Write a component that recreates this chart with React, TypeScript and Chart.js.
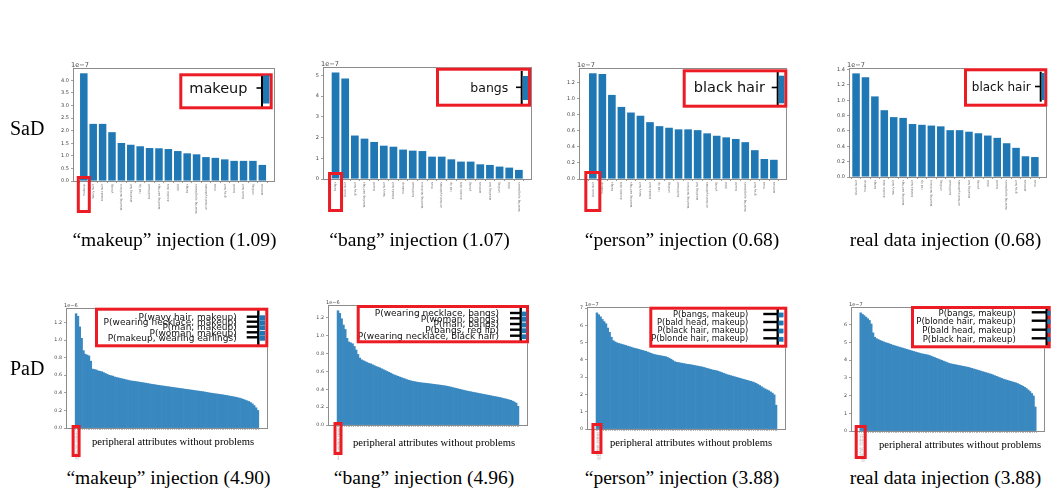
import { useEffect, useRef } from "react";
import { Chart, registerables } from "chart.js";

Chart.register(...registerables);

// ---------- SaD: single-attribute scores, values in units of 1e-7 ----------
const makeupAttrs = ["makeup", "wavy hair", "blonde hair", "young", "wearing necklace", "wearing hat", "red lip", "bald head", "wearing earrings", "double chin", "child", "bangs", "wearing eyeglasses", "arched eyebrows", "man", "gray hair", "beard", "black hair", "smiling", "woman"];
const makeupSad = [4.28, 2.27, 2.27, 1.94, 1.51, 1.44, 1.38, 1.31, 1.30, 1.27, 1.19, 1.10, 1.06, 0.95, 0.92, 0.86, 0.80, 0.80, 0.80, 0.64];

const bangAttrs = ["bangs", "black hair", "gray hair", "wearing earrings", "beard", "wavy hair", "blonde hair", "makeup", "bald head", "wearing necklace", "man", "arched eyebrows", "red lip", "double chin", "young", "woman", "wearing hat", "smiling", "child", "wearing eyeglasses"];
const bangSad = [5.15, 4.85, 2.10, 1.95, 1.79, 1.61, 1.56, 1.42, 1.37, 1.35, 1.08, 1.08, 0.95, 0.84, 0.84, 0.71, 0.68, 0.60, 0.55, 0.44];

const personAttrs = ["black hair", "makeup", "bangs", "double chin", "wearing earrings", "wavy hair", "blonde hair", "red lip", "smiling", "bald head", "wearing necklace", "wearing hat", "arched eyebrows", "young", "child", "beard", "wearing eyeglasses", "gray hair", "man", "woman"];
const personSad = [1.32, 1.31, 1.05, 0.90, 0.83, 0.79, 0.71, 0.66, 0.64, 0.62, 0.62, 0.61, 0.57, 0.54, 0.52, 0.50, 0.46, 0.36, 0.25, 0.24];

const realAttrs = ["black hair", "makeup", "bangs", "double chin", "wavy hair", "wearing earrings", "blonde hair", "red lip", "wearing necklace", "smiling", "bald head", "arched eyebrows", "wearing hat", "young", "child", "beard", "wearing eyeglasses", "gray hair", "woman", "man"];
const realSad = [1.35, 1.30, 1.05, 0.87, 0.78, 0.77, 0.69, 0.68, 0.67, 0.66, 0.61, 0.61, 0.59, 0.57, 0.54, 0.51, 0.44, 0.38, 0.27, 0.26];

// ---------- PaD: attribute-pair scores, sorted descending ----------
// units of 1e-6
const makeupPad = [
  1.30, 1.27, 1.15, 1.02, 0.88, 0.84, 0.83, 0.82, 0.76, 0.67,
  0.665, 0.66, 0.65, 0.645, 0.64, 0.63, 0.62, 0.61, 0.60, 0.595,
  0.59, 0.58, 0.575, 0.57, 0.565, 0.56, 0.555, 0.55, 0.545, 0.54,
  0.535, 0.533, 0.53, 0.527, 0.524, 0.52, 0.517, 0.513, 0.51, 0.506,
  0.502, 0.498, 0.495, 0.492, 0.488, 0.485, 0.482, 0.479, 0.476, 0.473,
  0.47, 0.467, 0.464, 0.461, 0.458, 0.455, 0.452, 0.449, 0.446, 0.443,
  0.44, 0.437, 0.434, 0.431, 0.428, 0.425, 0.422, 0.419, 0.416, 0.413,
  0.41, 0.406, 0.402, 0.398, 0.395, 0.392, 0.389, 0.386, 0.383, 0.38,
  0.377, 0.373, 0.37, 0.366, 0.362, 0.358, 0.354, 0.35, 0.345, 0.34,
  0.334, 0.326, 0.318, 0.31, 0.302, 0.29, 0.275, 0.255, 0.23, 0.20,
];
// units of 1e-6
const bangPad = [
  1.28, 1.25, 1.19, 1.12, 1.07, 0.97, 0.93, 0.92, 0.91, 0.88,
  0.84, 0.79, 0.75, 0.73, 0.72, 0.71, 0.70, 0.69, 0.685, 0.675,
  0.665, 0.655, 0.648, 0.64, 0.63, 0.62, 0.61, 0.60, 0.59, 0.58,
  0.57, 0.56, 0.553, 0.545, 0.537, 0.53, 0.522, 0.515, 0.508, 0.50,
  0.495, 0.49, 0.486, 0.482, 0.478, 0.475, 0.472, 0.47, 0.468, 0.466,
  0.463, 0.46, 0.458, 0.455, 0.452, 0.45, 0.447, 0.444, 0.441, 0.438,
  0.434, 0.43, 0.425, 0.42, 0.415, 0.41, 0.405, 0.40, 0.395, 0.39,
  0.385, 0.38, 0.376, 0.372, 0.368, 0.364, 0.36, 0.356, 0.352, 0.348,
  0.344, 0.34, 0.336, 0.332, 0.328, 0.324, 0.32, 0.316, 0.312, 0.308,
  0.303, 0.298, 0.293, 0.288, 0.282, 0.276, 0.268, 0.258, 0.245, 0.21,
];
// units of 1e-7
const personPad = [
  6.73, 6.62, 6.50, 6.35, 6.22, 6.10, 5.85, 5.60, 5.32, 5.12,
  5.05, 5.00, 4.96, 4.93, 4.90, 4.87, 4.84, 4.80, 4.77, 4.74,
  4.70, 4.67, 4.65, 4.62, 4.59, 4.56, 4.53, 4.50, 4.46, 4.42,
  4.38, 4.34, 4.31, 4.29, 4.27, 4.25, 4.23, 4.21, 4.19, 4.15,
  4.10, 4.04, 3.97, 3.90, 3.87, 3.85, 3.83, 3.81, 3.79, 3.77,
  3.75, 3.74, 3.72, 3.70, 3.68, 3.66, 3.64, 3.62, 3.60, 3.57,
  3.54, 3.51, 3.48, 3.45, 3.42, 3.40, 3.38, 3.35, 3.31, 3.27,
  3.23, 3.19, 3.15, 3.12, 3.09, 3.06, 3.03, 3.00, 2.97, 2.94,
  2.91, 2.88, 2.85, 2.82, 2.79, 2.76, 2.73, 2.69, 2.64, 2.58,
  2.52, 2.45, 2.38, 2.32, 2.27, 2.22, 2.15, 2.08, 1.98, 1.38,
];
// units of 1e-7
const realPad = [
  6.68, 6.60, 6.52, 6.44, 6.35, 6.25, 6.05, 5.55, 5.30, 5.22,
  5.17, 5.12, 5.08, 5.04, 5.00, 4.97, 4.94, 4.90, 4.86, 4.83,
  4.80, 4.77, 4.74, 4.71, 4.68, 4.65, 4.62, 4.59, 4.56, 4.53,
  4.50, 4.47, 4.44, 4.41, 4.38, 4.36, 4.34, 4.32, 4.30, 4.27,
  4.23, 4.19, 4.15, 4.11, 4.07, 4.03, 3.99, 3.95, 3.91, 3.87,
  3.83, 3.80, 3.78, 3.76, 3.74, 3.72, 3.70, 3.68, 3.66, 3.64,
  3.62, 3.60, 3.57, 3.54, 3.51, 3.48, 3.45, 3.42, 3.39, 3.36,
  3.33, 3.30, 3.27, 3.24, 3.21, 3.17, 3.13, 3.09, 3.05, 3.01,
  2.97, 2.93, 2.90, 2.87, 2.84, 2.81, 2.78, 2.75, 2.72, 2.68,
  2.63, 2.58, 2.53, 2.47, 2.40, 2.32, 2.23, 2.12, 1.98, 1.36,
];

// top pairs shown in the zoomed insets
const makeupTopPairs = ["P(wavy hair, makeup)", "P(wearing necklace, makeup)", "P(man, makeup)", "P(woman, makeup)", "P(makeup, wearing earlings)"];
const bangTopPairs = ["P(wearing necklace, bangs)", "P(woman, bangs)", "P(man, bangs)", "P(bangs, red lip)", "P(wearing necklace, black hair)"];
const personTopPairs = ["P(bangs, makeup)", "P(bald head, makeup)", "P(black hair, makeup)", "P(blonde hair, makeup)"];
const realTopPairs = ["P(bangs, makeup)", "P(blonde hair, makeup)", "P(bald head, makeup)", "P(black hair, makeup)"];

// y-axis tick values
const makeupSadTicks = [0, 0.5, 1.0, 1.5, 2.0, 2.5, 3.0, 3.5, 4.0];
const bangSadTicks = [0, 1, 2, 3, 4, 5];
const personSadTicks = [0, 0.2, 0.4, 0.6, 0.8, 1.0, 1.2];
const realSadTicks = [0, 0.2, 0.4, 0.6, 0.8, 1.0, 1.2, 1.4];
const makeupPadTicks = [0, 0.2, 0.4, 0.6, 0.8, 1.0, 1.2];
const bangPadTicks = [0, 0.2, 0.4, 0.6, 0.8, 1.0, 1.2];
const personPadTicks = [0, 1, 2, 3, 4, 5, 6, 7];
const realPadTicks = [0, 1, 2, 3, 4, 5, 6];

const RED = "rgb(236, 28, 36)";
const SAD_BLUE = "#1f77b4";
const PAD_BLUE = "#3a88c0";

type Rect = [number, number, number, number];
type Inset = {
  box: Rect;
  font: number;
  rows: { text: string; y: number }[];
  textRight: number;
  tick: [number, number];
  tickWidth: number;
  line: [number, number, number];
  lineWidth: number;
  blue: Rect[];
};
type PanelSpec = {
  left: number; top: number; width: number; height: number;
  yAxisWidth: number; xAxisHeight: number; padTop: number; padRight: number;
  values: number[]; xLabels: string[];
  xMin: number; xMax: number; yMax: number; yTicks: number[]; yDecimals: number;
  exponent: string; expSize: number; yFont: number; xFont: number; xColor: string;
  barColor: string; barPercentage: number;
  inset: Inset;
  labelBox: { w: number; up: number; down: number };
};

function rowsBlue(x0: number, x1: number, ys: number[], half: number): Rect[] {
  return ys.map((y) => [x0, y - half, x1, y + half] as Rect);
}

const sadInset = (box: Rect, font: number, text: string, y: number, textRight: number, tick: [number, number], line: [number, number, number], blue: Rect): Inset => ({
  box, font, rows: [{ text, y }], textRight, tick, tickWidth: 1.6, line, lineWidth: 2, blue: [blue],
});

const padInset = (box: Rect, font: number, texts: string[], ys: number[], textRight: number, tick: [number, number], line: [number, number, number], blueX: [number, number]): Inset => ({
  box, font, rows: texts.map((t, i) => ({ text: t, y: ys[i] })), textRight, tick, tickWidth: 2.4, line, lineWidth: 2.4,
  blue: rowsBlue(blueX[0], blueX[1], ys, 2.4),
});

const panels: PanelSpec[] = [
  {
    left: 40, top: 50, width: 245, height: 180, yAxisWidth: 33, xAxisHeight: 49, padTop: 18, padRight: 10,
    values: makeupSad, xLabels: makeupAttrs, xMin: -1.15, xMax: 20.35, yMax: 4.49, yTicks: makeupSadTicks, yDecimals: 1,
    exponent: "1e\u22127", expSize: 6.6, yFont: 5, xFont: 3, xColor: "#666", barColor: SAD_BLUE, barPercentage: 0.8,
    inset: sadInset([179.3, 73.3, 272.7, 109.3], 14.5, "makeup", 89, 247.5, [256.5, 262], [262, 75, 107], [263, 75.5, 269.5, 103.5]),
    labelBox: { w: 14, up: 5, down: 32 },
  },
  {
    left: 290, top: 50, width: 252, height: 180, yAxisWidth: 33, xAxisHeight: 51, padTop: 17, padRight: 10,
    values: bangSad, xLabels: bangAttrs, xMin: -1.3, xMax: 20.36, yMax: 5.41, yTicks: bangSadTicks, yDecimals: 0,
    exponent: "1e\u22127", expSize: 6.6, yFont: 5, xFont: 3, xColor: "#666", barColor: SAD_BLUE, barPercentage: 0.8,
    inset: sadInset([436, 67.7, 531, 106.7], 12.5, "bangs", 88.3, 508.3, [516, 521.7], [521.7, 71, 104], [522.6, 76, 528, 100]),
    labelBox: { w: 15, up: 7, down: 33 },
  },
  {
    left: 546, top: 50, width: 251, height: 180, yAxisWidth: 33, xAxisHeight: 51, padTop: 18, padRight: 10,
    values: personSad, xLabels: personAttrs, xMin: -1.45, xMax: 20.38, yMax: 1.386, yTicks: personSadTicks, yDecimals: 1,
    exponent: "1e\u22127", expSize: 6.6, yFont: 5, xFont: 3, xColor: "#666", barColor: SAD_BLUE, barPercentage: 0.8,
    inset: sadInset([682.7, 69.3, 787.3, 107.7], 14.5, "black hair", 88.5, 765, [771.7, 777.7], [777.7, 70, 105], [778.6, 75.7, 784.3, 103.3]),
    labelBox: { w: 17, up: 8, down: 33 },
  },
  {
    left: 816, top: 50, width: 241, height: 180, yAxisWidth: 33, xAxisHeight: 53, padTop: 18, padRight: 10,
    values: realSad, xLabels: realAttrs, xMin: -0.75, xMax: 20.29, yMax: 1.42, yTicks: realSadTicks, yDecimals: 1,
    exponent: "1e\u22127", expSize: 6.6, yFont: 5, xFont: 3, xColor: "#666", barColor: SAD_BLUE, barPercentage: 0.8,
    inset: sadInset([964, 68.3, 1047.3, 106.7], 12, "black hair", 87.5, 1030.7, [1035, 1040.7], [1040.7, 71.7, 101.7], [1041.6, 73, 1044.6, 100]),
    labelBox: { w: 0, up: 0, down: 0 },
  },
  {
    left: 36, top: 290, width: 242, height: 170, yAxisWidth: 30, xAxisHeight: 32, padTop: 18, padRight: 10,
    values: makeupPad, xLabels: makeupTopPairs.slice(0, 3), xMin: -5.5, xMax: 104.5, yMax: 1.365, yTicks: makeupPadTicks, yDecimals: 1,
    exponent: "1e\u22126", expSize: 5, yFont: 4.8, xFont: 2.6, xColor: "#aaa", barColor: PAD_BLUE, barPercentage: 1,
    inset: padInset([95, 307.7, 268.3, 347.3], 9, makeupTopPairs, [317.7, 322.7, 327.7, 333.3, 338.3], 236.7, [246.7, 258.3], [258.3, 309, 345], [259.3, 265]),
    labelBox: { w: 9, up: 3, down: 29 },
  },
  {
    left: 298, top: 290, width: 240, height: 170, yAxisWidth: 30, xAxisHeight: 35, padTop: 15, padRight: 10,
    values: bangPad, xLabels: bangTopPairs.slice(0, 3), xMin: -5.5, xMax: 104.5, yMax: 1.344, yTicks: bangPadTicks, yDecimals: 1,
    exponent: "1e\u22126", expSize: 5, yFont: 4.8, xFont: 2.6, xColor: "#aaa", barColor: PAD_BLUE, barPercentage: 1,
    inset: padInset([356.7, 305, 529, 343.3], 9, bangTopPairs, [314, 319.3, 325, 330.7, 336.7], 499, [510, 520.7], [520.7, 307.7, 341], [521.7, 526.7]),
    labelBox: { w: 9, up: 3, down: 30 },
  },
  {
    left: 557, top: 290, width: 239, height: 170, yAxisWidth: 30, xAxisHeight: 31, padTop: 17, padRight: 10,
    values: personPad, xLabels: personTopPairs.slice(0, 3), xMin: -5.5, xMax: 104.5, yMax: 7.07, yTicks: personPadTicks, yDecimals: 0,
    exponent: "1e\u22127", expSize: 5, yFont: 4.8, xFont: 2.6, xColor: "#aaa", barColor: PAD_BLUE, barPercentage: 1,
    inset: padInset([649.3, 306.7, 787.3, 347.7], 8.3, personTopPairs, [315, 323, 331, 339.3], 748.3, [763.3, 777.7], [777.7, 309, 345], [778.5, 783.5]),
    labelBox: { w: 11, up: 6, down: 25 },
  },
  {
    left: 821, top: 290, width: 234, height: 172, yAxisWidth: 30, xAxisHeight: 31, padTop: 17, padRight: 10,
    values: realPad, xLabels: realTopPairs.slice(0, 3), xMin: -5.5, xMax: 104.5, yMax: 7.01, yTicks: realPadTicks, yDecimals: 0,
    exponent: "1e\u22127", expSize: 5, yFont: 4.8, xFont: 2.6, xColor: "#aaa", barColor: PAD_BLUE, barPercentage: 1,
    inset: padInset([911, 306, 1050.7, 348.3], 8.5, realTopPairs, [313.3, 321.7, 330.7, 339.3], 1015.7, [1031.7, 1046.7], [1046.7, 307.7, 345.7], [1047.4, 1050.5]),
    labelBox: { w: 12, up: 6, down: 28 },
  },
];

function decorPlugin(spec: PanelSpec) {
  return {
    id: "panelDecor",
    afterDraw(chart: any) {
      const { ctx, chartArea: a } = chart;
      const ox = spec.left;
      const oy = spec.top;
      ctx.save();

      // axes frame
      const l = Math.round(a.left), t = Math.round(a.top), r = Math.round(a.right), b = Math.round(a.bottom);
      ctx.strokeStyle = "#8c8c8c";
      ctx.lineWidth = 1;
      ctx.strokeRect(l + 0.5, t + 0.5, r - l - 1, b - t);

      // scale exponent
      ctx.fillStyle = "#444";
      ctx.font = `${spec.expSize}px "DejaVu Sans"`;
      ctx.textAlign = "left";
      ctx.textBaseline = "alphabetic";
      ctx.fillText(spec.exponent, a.left - 2, a.top - 1.5);

      // zoomed inset of the top entries
      const ins = spec.inset;
      const [bx0, by0, bx1, by1] = ins.box;
      ctx.fillStyle = "#fff";
      ctx.fillRect(bx0 - ox, by0 - oy, bx1 - bx0, by1 - by0);
      ctx.fillStyle = "#111";
      ctx.font = `${ins.font}px "DejaVu Sans"`;
      ctx.textAlign = "right";
      ctx.textBaseline = "middle";
      ins.rows.forEach((row) => ctx.fillText(row.text, ins.textRight - ox, row.y - oy));
      ctx.strokeStyle = "#000";
      ctx.lineWidth = ins.tickWidth;
      ins.rows.forEach((row) => {
        ctx.beginPath();
        ctx.moveTo(ins.tick[0] - ox, row.y - 1 - oy);
        ctx.lineTo(ins.tick[1] - ox, row.y - 1 - oy);
        ctx.stroke();
      });
      ctx.lineWidth = ins.lineWidth;
      ctx.beginPath();
      ctx.moveTo(ins.line[0] - ox, ins.line[1] - oy);
      ctx.lineTo(ins.line[0] - ox, ins.line[2] - oy);
      ctx.stroke();
      ctx.strokeStyle = RED;
      ctx.lineWidth = 3;
      ctx.strokeRect(bx0 + 1.5 - ox, by0 + 1.5 - oy, bx1 - bx0 - 3, by1 - by0 - 3);
      ctx.fillStyle = SAD_BLUE;
      ins.blue.forEach(([x0, y0, x1, y1]) => ctx.fillRect(x0 - ox, y0 - oy, x1 - x0, y1 - y0));

      // highlight of the first category label
      const lb = spec.labelBox;
      if (lb.w > 0) {
        const cx = chart.scales.x.getPixelForValue(0);
        ctx.strokeStyle = RED;
        ctx.lineWidth = 3;
        ctx.strokeRect(cx - lb.w / 2 + 1.5, a.bottom - lb.up + 1.5, lb.w - 3, lb.up + lb.down - 3);
      }
      ctx.restore();
    },
  };
}

function Panel({ spec }: { spec: PanelSpec }) {
  const ref = useRef<HTMLCanvasElement>(null);
  useEffect(() => {
    const canvas = ref.current;
    if (!canvas) return;
    const tickGrid = { display: true, drawOnChartArea: false, drawTicks: true, tickLength: 2, color: "#888", lineWidth: 0.8 };
    const chart = new Chart(canvas, {
      type: "bar",
      data: {
        datasets: [
          {
            data: spec.values.map((v, i) => ({ x: i, y: v })),
            backgroundColor: spec.barColor,
            borderWidth: 0,
            barPercentage: spec.barPercentage,
            categoryPercentage: 1,
          },
        ],
      },
      options: {
        responsive: false,
        animation: false,
        events: [],
        layout: { padding: { top: spec.padTop, right: spec.padRight, left: 0, bottom: 0 }, autoPadding: false },
        plugins: { legend: { display: false }, tooltip: { enabled: false }, title: { display: false } },
        scales: {
          x: {
            type: "linear",
            min: spec.xMin,
            max: spec.xMax,
            bounds: "data",
            offset: false,
            afterBuildTicks: (s: any) => {
              s.ticks = spec.values.map((_, i) => ({ value: i }));
            },
            afterFit: (s: any) => {
              s.height = spec.xAxisHeight;
              s.paddingLeft = 0;
              s.paddingRight = 0;
            },
            grid: { ...tickGrid, color: spec.barPercentage === 1 ? "#aaa" : "#888" },
            border: { display: false },
            ticks: {
              autoSkip: false,
              minRotation: 90,
              maxRotation: 90,
              padding: 1,
              color: spec.xColor,
              font: { family: '"DejaVu Sans"', size: spec.xFont },
              callback: (v: any) => spec.xLabels[Number(v)] ?? "",
            },
          },
          y: {
            type: "linear",
            min: 0,
            max: spec.yMax,
            bounds: "data",
            afterBuildTicks: (s: any) => {
              s.ticks = spec.yTicks.map((v) => ({ value: v }));
            },
            afterFit: (s: any) => {
              s.width = spec.yAxisWidth;
              s.paddingTop = 0;
              s.paddingBottom = 0;
            },
            grid: tickGrid,
            border: { display: false },
            ticks: {
              padding: 2,
              color: "#444",
              font: { family: '"DejaVu Sans"', size: spec.yFont },
              callback: (v: any) => Number(v).toFixed(spec.yDecimals),
            },
          },
        },
      } as any,
      plugins: [decorPlugin(spec)],
    });
    return () => chart.destroy();
  }, [spec]);
  return (
    <canvas
      ref={ref}
      width={spec.width}
      height={spec.height}
      style={{ position: "absolute", left: spec.left, top: spec.top, width: spec.width, height: spec.height }}
    />
  );
}

const captions = [
  { text: "\u201cmakeup\u201d injection (1.09)", x: 174.5, y: 240, size: 19.5 },
  { text: "\u201cbang\u201d injection (1.07)", x: 419.5, y: 240, size: 19.5 },
  { text: "\u201cperson\u201d injection (0.68)", x: 682, y: 240, size: 19.5 },
  { text: "real data injection (0.68)", x: 945.5, y: 240, size: 19.5 },
  { text: "\u201cmakeup\u201d injection (4.90)", x: 168.5, y: 478, size: 19.5 },
  { text: "\u201cbang\u201d injection (4.96)", x: 424, y: 478, size: 19.5 },
  { text: "\u201cperson\u201d injection (3.88)", x: 682, y: 478, size: 19.5 },
  { text: "real data injection (3.88)", x: 945.5, y: 478, size: 19.5 },
  { text: "peripheral attributes without problems", x: 173, y: 442, size: 10.6 },
  { text: "peripheral attributes without problems", x: 434, y: 443, size: 10.6 },
  { text: "peripheral attributes without problems", x: 691, y: 443, size: 10.6 },
  { text: "peripheral attributes without problems", x: 960, y: 445, size: 10.6 },
];

const rowTitles = [
  { text: "SaD", x: 10, y: 128 },
  { text: "PaD", x: 10, y: 368 },
];

export default function App() {
  return (
    <div style={{ position: "fixed", left: 0, top: 0, width: 1060, height: 492, background: "#fff", overflow: "hidden", fontFamily: '"Liberation Serif", serif', color: "#000" }}>
      {panels.map((p, i) => (
        <Panel key={i} spec={p} />
      ))}
      {rowTitles.map((r) => (
        <div key={r.text} style={{ position: "absolute", left: r.x, top: r.y, transform: "translateY(-50%)", fontSize: 20, lineHeight: 1, whiteSpace: "nowrap" }}>
          {r.text}
        </div>
      ))}
      {captions.map((c, i) => (
        <div key={i} style={{ position: "absolute", left: c.x, top: c.y, transform: "translate(-50%, -50%)", fontSize: c.size, lineHeight: 1, whiteSpace: "nowrap" }}>
          {c.text}
        </div>
      ))}
    </div>
  );
}
